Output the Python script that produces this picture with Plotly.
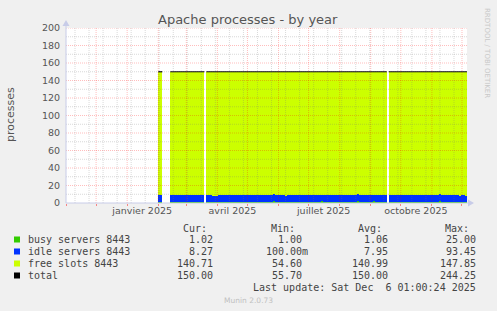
import pandas as pd
import plotly.graph_objects as go

# ---------------- data ----------------
title = "Apache processes - by year"
y_title = "processes"
series_names = ["busy servers 8443", "idle servers 8443", "free slots 8443", "total"]
series_colors = ["#33cc00", "#0033ff", "#ccff00", "#000000"]

first_bin = "2025-02-01"   # start of first 2-day bin
bin_days = 2

busy = [
    1.0, 1.0, None, None, None, None, 1.0, 1.0, 1.0, 1.0,
    1.0, 1.0, 1.0, 1.0, 1.0, 1.0, 1.0, 1.0, 1.0, 1.0,
    1.0, 1.0, 1.0, None, 1.0, 1.0, 1.0, 1.0, 1.0, 1.0,
    1.0, 1.0, 1.0, 1.0, 1.0, 1.0, 1.0, 1.0, 1.0, 1.0,
    1.0, 1.0, 1.0, 1.0, 1.0, 1.0, 1.0, 1.0, 1.0, 1.0,
    1.0, 1.0, 1.0, 1.0, 1.0, 1.0, 1.0, 2.4, 1.0, 1.0,
    1.0, 1.0, 1.0, 1.0, 1.0, 1.0, 1.0, 1.0, 1.0, 1.0,
    1.0, 1.0, 1.0, 1.0, 1.0, 1.0, 1.0, 1.0, 1.0, 1.0,
    1.0, 2.4, 1.0, 1.0, 1.0, 1.0, 1.0, 1.0, 1.0, 1.0,
    1.0, 1.0, 1.0, 1.0, 1.0, 1.0, 1.0, 1.0, 1.0, 2.4,
    1.0, 1.0, 1.0, 1.0, 1.0, 1.0, 1.0, 2.4, 1.0, 1.0,
    1.0, 1.0, 1.0, 1.0, None, 1.0, 1.0, 1.0, 1.0, 1.0,
    1.0, 1.0, 1.0, 1.0, 1.0, 1.0, 1.0, 1.0, 1.0, 1.0,
    1.0, 1.0, 1.0, 1.0, 1.0, 1.0, 1.0, 1.0, 1.0, 1.0,
    2.4, 1.0, 1.0, 1.0, 1.0, 1.0, 1.0, 1.0, 1.0, 1.0,
    1.0, 1.0, 1.0, 1.0,
]

idle = [
    8.3, 8.1, None, None, None, None, 8.6, 8.4, 8.5, 8.3,
    8.6, 8.4, 8.5, 8.7, 8.4, 8.3, 8.6, 8.5, 8.4, 8.2,
    8.5, 8.3, 8.4, None, 8.1, 7.6, 7.9, 7.2, 6.9, 7.4,
    8.2, 8.4, 7.8, 8.3, 8.0, 8.5, 8.2, 7.9, 8.3, 8.1,
    7.7, 8.0, 8.4, 8.2, 7.9, 8.1, 7.8, 8.3, 8.0, 7.6,
    7.9, 8.2, 8.0, 7.7, 8.1, 7.9, 8.4, 7.4, 7.8, 8.0,
    7.9, 8.2, 7.8, 7.5, 7.9, 8.1, 8.3, 7.9, 8.6, 8.2,
    8.0, 7.7, 8.1, 7.9, 8.3, 8.0, 7.8, 8.2, 8.5, 8.1,
    7.9, 7.3, 8.0, 8.2, 8.4, 7.9, 8.1, 8.3, 7.8, 8.0,
    8.2, 7.9, 8.5, 8.3, 8.1, 7.8, 8.2, 8.6, 8.0, 7.5,
    8.4, 8.7, 8.2, 8.0, 8.4, 8.1, 7.7, 7.2, 8.3, 8.6,
    8.0, 7.8, 8.5, 8.2, None, 7.8, 8.0, 8.2, 7.9, 8.1,
    7.7, 8.0, 8.3, 7.9, 8.1, 8.2, 7.8, 8.0, 8.4, 8.1,
    7.9, 8.2, 8.0, 7.6, 8.1, 8.3, 7.9, 8.2, 8.0, 7.8,
    7.4, 8.1, 8.3, 7.9, 8.0, 8.2, 8.4, 7.8, 8.1, 7.7,
    7.5, 8.0, 7.6, 7.4,
]

free = [
    140.7, 140.9, None, None, None, None, 140.4, 140.6, 140.5, 140.7,
    140.4, 140.6, 140.5, 140.3, 140.6, 140.7, 140.4, 140.5, 140.6, 140.8,
    140.5, 140.7, 140.6, None, 140.9, 141.4, 141.1, 141.8, 142.1, 141.6,
    140.8, 140.6, 141.2, 140.7, 141.0, 140.5, 140.8, 141.1, 140.7, 140.9,
    141.3, 141.0, 140.6, 140.8, 141.1, 140.9, 141.2, 140.7, 141.0, 141.4,
    141.1, 140.8, 141.0, 141.3, 140.9, 141.1, 140.6, 140.2, 141.2, 141.0,
    141.1, 140.8, 141.2, 141.5, 141.1, 140.9, 140.7, 141.1, 140.4, 140.8,
    141.0, 141.3, 140.9, 141.1, 140.7, 141.0, 141.2, 140.8, 140.5, 140.9,
    141.1, 140.3, 141.0, 140.8, 140.6, 141.1, 140.9, 140.7, 141.2, 141.0,
    140.8, 141.1, 140.5, 140.7, 140.9, 141.2, 140.8, 140.4, 141.0, 140.1,
    140.6, 140.3, 140.8, 141.0, 140.6, 140.9, 141.3, 140.4, 140.7, 140.4,
    141.0, 141.2, 140.5, 140.8, None, 141.2, 141.0, 140.8, 141.1, 140.9,
    141.3, 141.0, 140.7, 141.1, 140.9, 140.8, 141.2, 141.0, 140.6, 140.9,
    141.1, 140.8, 141.0, 141.4, 140.9, 140.7, 141.1, 140.8, 141.0, 141.2,
    140.2, 140.9, 140.7, 141.1, 141.0, 140.8, 140.6, 141.2, 140.9, 141.3,
    141.5, 141.0, 141.4, 141.6,
]

total = [
    150.0, 150.0, None, None, None, None, 150.0, 150.0, 150.0, 150.0,
    150.0, 150.0, 150.0, 150.0, 150.0, 150.0, 150.0, 150.0, 150.0, 150.0,
    150.0, 150.0, 150.0, None, 150.0, 150.0, 150.0, 150.0, 150.0, 150.0,
    150.0, 150.0, 150.0, 150.0, 150.0, 150.0, 150.0, 150.0, 150.0, 150.0,
    150.0, 150.0, 150.0, 150.0, 150.0, 150.0, 150.0, 150.0, 150.0, 150.0,
    150.0, 150.0, 150.0, 150.0, 150.0, 150.0, 150.0, 150.0, 150.0, 150.0,
    150.0, 150.0, 150.0, 150.0, 150.0, 150.0, 150.0, 150.0, 150.0, 150.0,
    150.0, 150.0, 150.0, 150.0, 150.0, 150.0, 150.0, 150.0, 150.0, 150.0,
    150.0, 150.0, 150.0, 150.0, 150.0, 150.0, 150.0, 150.0, 150.0, 150.0,
    150.0, 150.0, 150.0, 150.0, 150.0, 150.0, 150.0, 150.0, 150.0, 150.0,
    150.0, 150.0, 150.0, 150.0, 150.0, 150.0, 150.0, 150.0, 150.0, 150.0,
    150.0, 150.0, 150.0, 150.0, None, 150.0, 150.0, 150.0, 150.0, 150.0,
    150.0, 150.0, 150.0, 150.0, 150.0, 150.0, 150.0, 150.0, 150.0, 150.0,
    150.0, 150.0, 150.0, 150.0, 150.0, 150.0, 150.0, 150.0, 150.0, 150.0,
    150.0, 150.0, 150.0, 150.0, 150.0, 150.0, 150.0, 150.0, 150.0, 150.0,
    150.0, 150.0, 150.0, 150.0,
]

tick_labels = ["janvier 2025", "avril 2025", "juillet 2025", "octobre 2025"]
tick_dates = ["2025-01-16", "2025-04-16", "2025-07-16", "2025-10-16"]
x_range = ["2024-11-01", "2025-12-06"]
y_range = [0, 200]

cur_vals = ["1.02", "8.27", "140.71", "150.00"]
min_vals = ["1.00", "100.00m", "54.60", "55.70"]
avg_vals = ["1.06", "7.95", "140.99", "150.00"]
max_vals = ["25.00", "93.45", "147.85", "244.25"]
last_update = "Last update: Sat Dec \u00a06 01:00:24 2025"
footer = "Munin 2.0.73"
side_text = "RRDTOOL / TOBI OETIKER"

# ---------------- layout helpers ----------------
W, H = 497, 311
L, R, T, B = 66, 467, 28, 203
def px(x):
    return (x - L) / (R - L)
def py(y):
    return (B - y) / (B - T)

bin_start = pd.date_range(first_bin, periods=len(idle), freq=f"{bin_days}D")
bin_ms = bin_days * 86400000

fig = go.Figure()
for vals, name, col in zip([busy, idle, free], series_names[:3], series_colors[:3]):
    fig.add_trace(go.Bar(
        x=bin_start, y=vals, width=bin_ms, offset=0, name=name,
        marker=dict(color=col, line=dict(width=0)), showlegend=False,
    ))

# total line: each bin drawn from its start to its end, with breaks at gaps
tx, ty = [], []
for s, v in zip(bin_start, total):
    if v is None:
        tx.append(None); ty.append(None)
    else:
        tx += [s, s + pd.Timedelta(days=bin_days)]
        ty += [v, v]
fig.add_trace(go.Scatter(x=tx, y=ty, mode="lines", connectgaps=False,
                         line=dict(color="#000000", width=1.2),
                         name=series_names[3], showlegend=False))

# grid (drawn above the areas like rrdtool)
shapes = []
major_col = "rgba(255,0,0,0.26)"
minor_col = "rgba(120,120,120,0.28)"
for d in pd.date_range("2024-11-10", x_range[1], freq="14D"):
    shapes.append(dict(type="line", xref="x", yref="paper", x0=d, x1=d, y0=0, y1=1,
                       layer="above", line=dict(color=minor_col, width=1, dash="1px,1px")))
month_starts = pd.date_range("2024-12-01", x_range[1], freq="MS")
for d in month_starts:
    shapes.append(dict(type="line", xref="x", yref="paper", x0=d, x1=d, y0=0, y1=1,
                       layer="above", line=dict(color=major_col, width=1, dash="1px,1px")))
for v in range(10, 200, 20):
    shapes.append(dict(type="line", xref="paper", yref="y", x0=0, x1=1, y0=v, y1=v,
                       layer="above", line=dict(color=minor_col, width=1, dash="1px,1px")))
for v in range(20, 201, 20):
    shapes.append(dict(type="line", xref="paper", yref="y", x0=0, x1=1, y0=v, y1=v,
                       layer="above", line=dict(color=major_col, width=1, dash="1px,1px")))

axis_col = "#c8cce8"
# axis lines + arrows
shapes.append(dict(type="line", xref="paper", yref="paper", x0=px(66), x1=px(469),
                   y0=py(203), y1=py(203), layer="above", line=dict(color=axis_col, width=1)))
shapes.append(dict(type="line", xref="paper", yref="paper", x0=px(66), x1=px(66),
                   y0=py(203), y1=py(24), layer="above", line=dict(color=axis_col, width=1)))
shapes.append(dict(type="path", xref="paper", yref="paper", layer="above",
                   path=f"M {px(468)} {py(199.5)} L {px(474)} {py(203)} L {px(468)} {py(206.5)} Z",
                   fillcolor=axis_col, line=dict(width=0)))
shapes.append(dict(type="path", xref="paper", yref="paper", layer="above",
                   path=f"M {px(62.5)} {py(26)} L {px(66)} {py(20)} L {px(69.5)} {py(26)} Z",
                   fillcolor=axis_col, line=dict(width=0)))

# legend squares
row_y = [239.5, 251.5, 263.5, 275.5]
for yy, col in zip(row_y, series_colors):
    shapes.append(dict(type="rect", xref="paper", yref="paper",
                       x0=px(14), x1=px(20), y0=py(yy - 3), y1=py(yy + 3),
                       fillcolor=col, line=dict(width=0)))

mono = "DejaVu Sans Mono"
txt_col = "#444444"
ann = []
def text(x, y, s, anchor="left", size=10, color=txt_col, family=mono, angle=0):
    ann.append(dict(x=px(x), y=py(y), xref="paper", yref="paper", text=s, showarrow=False,
                    xanchor=anchor, yanchor="middle", textangle=angle,
                    font=dict(family=family, size=size, color=color)))

text(248, 19, title, anchor="center", size=13, color="#555555", family="DejaVu Sans")
text(10, 115, y_title, anchor="center", size=11, color="#555555", family="DejaVu Sans", angle=-90)
text(487, 53, side_text, anchor="center", size=7, color="#c8c8c8", family="DejaVu Sans", angle=90)
text(209, 228, "Cur:", anchor="right")
text(297, 228, "Min:", anchor="right")
text(384, 228, "Avg:", anchor="right")
text(471, 228, "Max:", anchor="right")
for i, yy in enumerate(row_y):
    text(26, yy, series_names[i])
    text(215, yy, cur_vals[i], anchor="right")
    text(304 if not min_vals[i].endswith("m") else 310, yy, min_vals[i], anchor="right")
    text(390, yy, avg_vals[i], anchor="right")
    text(478, yy, max_vals[i], anchor="right")
text(478, 287.5, last_update, anchor="right")
text(248, 300, footer, anchor="center", size=7.5, color="#c0c0c0", family="DejaVu Sans")

tick_font = dict(family="DejaVu Sans", size=9.5, color="#555555")
fig.update_layout(
    width=W, height=H,
    margin=dict(l=L, r=W - R, t=T, b=H - B, autoexpand=False),
    paper_bgcolor="#f0f0f0", plot_bgcolor="#ffffff",
    barmode="stack", bargap=0, bargroupgap=0,
    showlegend=False,
    shapes=shapes, annotations=ann,
    xaxis=dict(type="date", range=x_range, tickvals=tick_dates, ticktext=tick_labels,
               ticks="", tickfont=tick_font, automargin=False,
               minor=dict(tick0="2024-12-01", dtick="M1", ticks="outside", ticklen=2,
                          tickcolor="rgba(255,0,0,0.45)", showgrid=False),
               showgrid=False, zeroline=False, showline=False, fixedrange=True),
    yaxis=dict(range=y_range, dtick=20, tick0=0, showgrid=False, zeroline=False,
               showline=False, ticks="outside", ticklen=3, tickcolor="rgba(0,0,0,0)",
               tickfont=tick_font, automargin=False),
)

fig.write_html("out.html")
